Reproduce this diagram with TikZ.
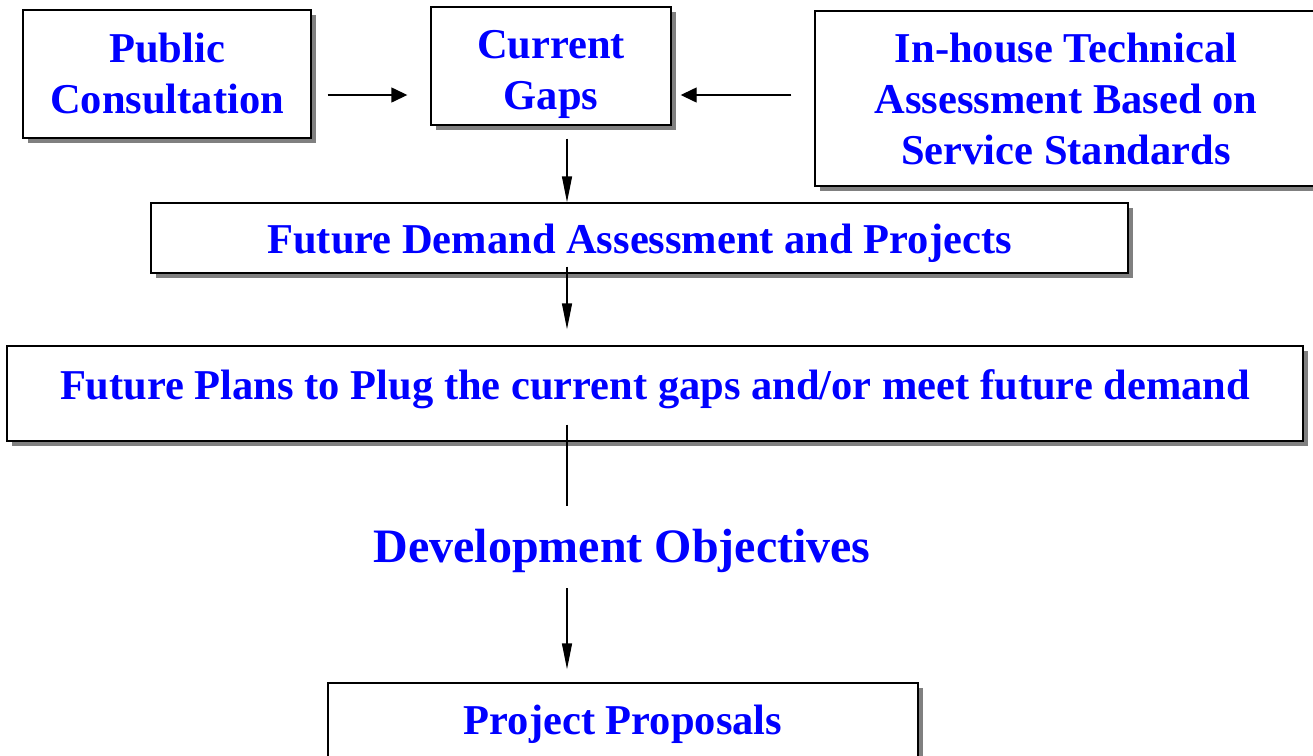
\documentclass[tikz,border=0pt]{standalone}
\usepackage{fontspec}
\setmainfont{Liberation Serif}
\usetikzlibrary{arrows.meta,shadows}
\definecolor{txtblue}{RGB}{0,0,255}
\definecolor{shgray}{RGB}{128,128,128}
\newcommand\atbase[2]{\raisebox{-#1}[0pt][0pt]{#2}}
\tikzset{
  box/.style={draw=black, line width=1.4pt, fill=white, align=center, inner sep=0pt,
    text=txtblue, font=\fontsize{42.5}{51}\selectfont\bfseries,
    drop shadow={shadow xshift=5pt, shadow yshift=-5pt, fill=shgray, opacity=1}},
  varr/.style={line width=1.4pt, -{Triangle[length=26pt,width=10pt]}},
  harr/.style={line width=1.4pt, -{Triangle[length=16pt,width=15pt]}},
  plainline/.style={line width=1.4pt},
}
\begin{document}
\begin{tikzpicture}[x=1pt,y=-1pt]
\useasboundingbox (0,0) rectangle (1313,755);
\node[box, minimum width=288, minimum height=128] (pub) at (167,74) {Public\\Consultation};
\node[box, minimum width=240, minimum height=118] (gaps) at (551,66) {\rule{0pt}{45pt}Current\\Gaps};
\node[box, minimum width=502, minimum height=175] (inh) at (1066,98.5) {In-house Technical\\Assessment Based on\\Service Standards};
\node[box, minimum width=977, minimum height=70] (fda) at (639.5,238) {\atbase{15pt}{Future Demand Assessment and Projects}};
\node[box, minimum width=1296, minimum height=95] (fp) at (655,393.5) {\atbase{5.5pt}{Future Plans to Plug the current gaps and/or meet future demand}};
\node[text=txtblue, font=\fontsize{48}{58}\selectfont\bfseries, inner sep=0pt, minimum height=82] (dev) at (622,547) {\atbase{15pt}{Development Objectives}};
\node[box, minimum width=590, minimum height=76] (pp) at (623,721) {\atbase{13pt}{Project Proposals}};
\coordinate (row) at (0,95);
\coordinate (col) at (567,0);
\draw[harr, shorten <=16pt, shorten >=23pt] (pub.east |- row) -- (gaps.west |- row);
\draw[harr, shorten <=23pt, shorten >=9pt] (inh.west |- row) -- (gaps.east |- row);
\draw[varr, shorten <=13pt] (gaps.south -| col) -- (fda.north -| col);
\draw[varr, shorten <=-7pt, shorten >=16pt] (fda.south -| col) -- (fp.north -| col);
\draw[plainline, shorten <=-17pt] (fp.south -| col) -- (dev.north -| col);
\draw[varr, shorten >=13pt] (dev.south -| col) -- (pp.north -| col);
\end{tikzpicture}
\end{document}
